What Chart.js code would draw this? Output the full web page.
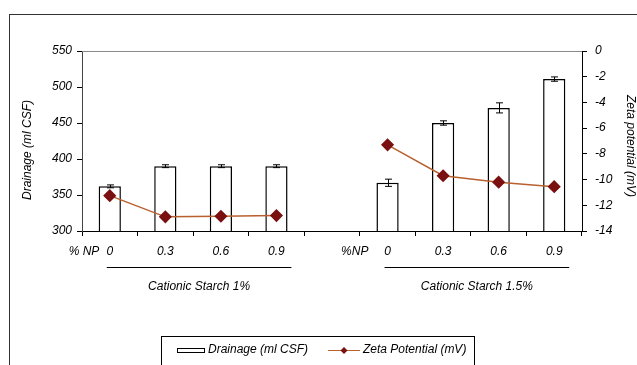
<!DOCTYPE html>
<html>
<head>
<meta charset="utf-8">
<script src="https://cdn.jsdelivr.net/npm/chart.js@4/dist/chart.umd.min.js"></script>
<style>
  html, body { margin: 0; padding: 0; background: #fff; }
</style>
</head>
<body>
<canvas id="chart" width="637" height="365"></canvas>
<script>
// values
const categories = ['0', '0.3', '0.6', '0.9', '', '0', '0.3', '0.6', '0.9'];
const drainage = [362, 390, 390, 390, null, 367, 450, 471, 511];
const drainageError = [2, 2, 2, 2, null, 5, 3, 7, 3];
const zetaPotential = [-11.25, -12.9, -12.85, -12.8, null, -7.3, -9.7, -10.2, -10.55];

const drainageTicks = [300, 350, 400, 450, 500, 550];
const zetaTicks = [-14, -12, -10, -8, -6, -4, -2, 0];

const npLabels = ['% NP', '%NP'];
const groupLabels = ['Cationic Starch 1%', 'Cationic Starch 1.5%'];
const groupStart = [0, 5];
const groupEnd = [3, 8];

const FONT = '"Liberation Sans", Arial, sans-serif';
const lineColor = '#b8602e';
const markerColor = '#7a1010';

function italic(size) {
    return 'italic ' + size + 'px ' + FONT;
}

const extras = {
    id: 'extras',
    afterDatasetDraw(chart, args) {
        if (args.index !== 1) return;
        // error bars on the drainage columns
        const ctx = chart.ctx;
        const x = chart.scales.x, y = chart.scales.y;
        ctx.save();
        ctx.strokeStyle = '#000';
        ctx.lineWidth = 1;
        drainage.forEach((v, i) => {
            if (v === null) return;
            const px = Math.round(x.getPixelForValue(i)) + 0.5;
            const top = y.getPixelForValue(v + drainageError[i]);
            const bot = y.getPixelForValue(v - drainageError[i]);
            ctx.beginPath();
            ctx.moveTo(px, top); ctx.lineTo(px, bot);
            ctx.moveTo(px - 3.5, top); ctx.lineTo(px + 3.5, top);
            ctx.moveTo(px - 3.5, bot); ctx.lineTo(px + 3.5, bot);
            ctx.stroke();
        });
        ctx.restore();
    },
    afterDraw(chart) {
        const ctx = chart.ctx;
        const area = chart.chartArea;
        const x = chart.scales.x;
        const step = x.getPixelForValue(1) - x.getPixelForValue(0);
        ctx.save();

        // outer frame
        ctx.strokeStyle = '#333';
        ctx.lineWidth = 1;
        ctx.strokeRect(9.5, 14.5, 640, 400);

        // top border of the plot
        ctx.strokeStyle = '#8a8a8a';
        ctx.beginPath();
        ctx.moveTo(area.left, area.top + 0.5);
        ctx.lineTo(area.right, area.top + 0.5);
        ctx.stroke();

        ctx.fillStyle = '#000';
        ctx.font = italic(12);
        ctx.textBaseline = 'middle';

        // %NP labels at the group starts
        ctx.textAlign = 'center';
        ctx.fillText(npLabels[0], x.getPixelForValue(groupStart[0]) - step / 2 + 2, 252);
        ctx.fillText(npLabels[1], x.getPixelForValue(groupStart[1]) - step / 2 - 5, 252);

        // group underlines and labels
        ctx.strokeStyle = '#000';
        groupLabels.forEach((label, g) => {
            const x0 = x.getPixelForValue(groupStart[g]) - 3;
            const x1 = x.getPixelForValue(groupEnd[g]) + 15;
            ctx.beginPath();
            ctx.moveTo(x0, 267.5);
            ctx.lineTo(x1, 267.5);
            ctx.stroke();
            ctx.fillText(label, (x0 + x1) / 2, 287);
        });

        // axis titles
        ctx.save();
        ctx.translate(28, 150);
        ctx.rotate(-Math.PI / 2);
        ctx.fillText('Drainage (ml CSF)', 0, 0);
        ctx.restore();
        ctx.save();
        ctx.translate(630, 146);
        ctx.rotate(Math.PI / 2);
        ctx.fillText('Zeta potential (mV)', 0, 0);
        ctx.restore();

        // legend
        ctx.strokeStyle = '#000';
        ctx.strokeRect(161.5, 336.5, 313, 40);
        ctx.fillStyle = '#fff';
        ctx.fillRect(177.5, 348.5, 27, 4);
        ctx.strokeRect(177.5, 348.5, 27, 4);
        ctx.fillStyle = '#000';
        ctx.textAlign = 'left';
        ctx.fillText(chart.data.datasets[1].label, 208, 350);
        ctx.strokeStyle = lineColor;
        ctx.beginPath();
        ctx.moveTo(328, 350.5);
        ctx.lineTo(360, 350.5);
        ctx.stroke();
        ctx.fillStyle = markerColor;
        ctx.beginPath();
        ctx.moveTo(344, 347);
        ctx.lineTo(347.5, 350.5);
        ctx.lineTo(344, 354);
        ctx.lineTo(340.5, 350.5);
        ctx.closePath();
        ctx.fill();
        ctx.fillStyle = '#000';
        ctx.fillText(chart.data.datasets[0].label, 363, 350);

        ctx.restore();
    }
};

new Chart(document.getElementById('chart'), {
    type: 'bar',
    data: {
        labels: categories,
        datasets: [
            {
                type: 'line',
                label: 'Zeta Potential (mV)',
                data: zetaPotential,
                yAxisID: 'y2',
                order: 0,
                borderColor: lineColor,
                borderWidth: 1.5,
                pointStyle: 'rectRot',
                pointRadius: 5.5,
                pointBackgroundColor: markerColor,
                pointBorderColor: markerColor,
                spanGaps: false,
                tension: 0
            },
            {
                type: 'bar',
                label: 'Drainage (ml CSF)',
                data: drainage,
                yAxisID: 'y',
                order: 1,
                backgroundColor: '#fff',
                borderColor: '#000',
                borderWidth: 1.5,
                categoryPercentage: 1,
                barPercentage: 0.4
            }
        ]
    },
    options: {
        responsive: false,
        animation: false,
        devicePixelRatio: 1,
        layout: { padding: { top: 51, left: 0, right: 0, bottom: 0 } },
        plugins: {
            legend: { display: false },
            tooltip: { enabled: false }
        },
        scales: {
            x: {
                offset: true,
                afterFit(scale) { scale.height = 134; },
                grid: { drawOnChartArea: false, offset: true, color: '#000', tickLength: 5 },
                border: { color: '#000' },
                ticks: {
                    autoSkip: false, maxRotation: 0, padding: 8,
                    color: '#000', font: { family: FONT, size: 12, style: 'italic' }
                }
            },
            y: {
                position: 'left',
                min: 300, max: 550,
                afterFit(scale) { scale.width = 82; },
                afterBuildTicks(scale) { scale.ticks = drainageTicks.map(v => ({ value: v })); },
                grid: { drawOnChartArea: false, color: '#000', tickLength: 5 },
                border: { color: '#444' },
                ticks: {
                    padding: 5,
                    color: '#000', font: { family: FONT, size: 12, style: 'italic' }
                }
            },
            y2: {
                position: 'right',
                min: -14, max: 0,
                afterFit(scale) { scale.width = 55; },
                afterBuildTicks(scale) { scale.ticks = zetaTicks.map(v => ({ value: v })); },
                grid: { drawOnChartArea: false, color: '#000', tickLength: 5 },
                border: { color: '#000' },
                ticks: {
                    padding: 8,
                    color: '#000', font: { family: FONT, size: 12, style: 'italic' }
                }
            }
        }
    },
    plugins: [extras]
});
</script>
</body>
</html>
